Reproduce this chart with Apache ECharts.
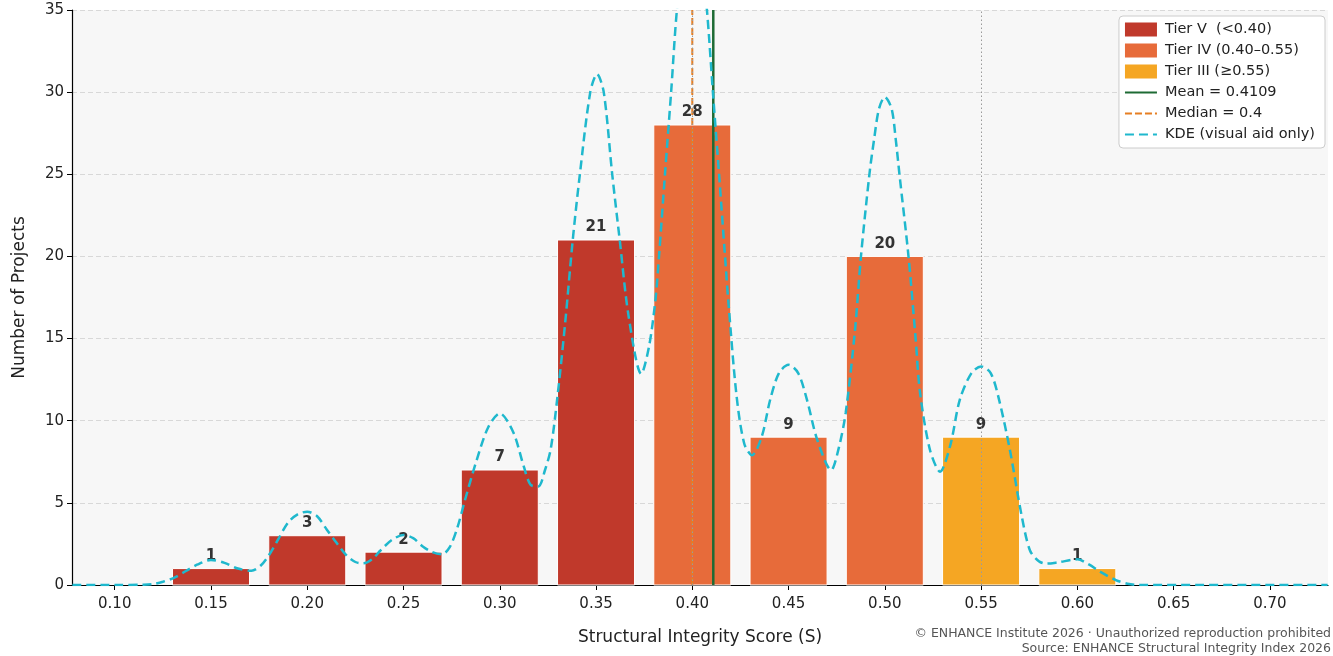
<!DOCTYPE html>
<html>
<head>
<meta charset="utf-8">
<script src="https://cdn.jsdelivr.net/npm/echarts@6/dist/echarts.min.js"></script>
<style>
  html,body{margin:0;padding:0;background:#fff;}
  #chart{width:1333px;height:656px;}
</style>
</head>
<body>
<div id="chart"></div>
<script>
// ---- data ----
const binCenters = [0.15, 0.20, 0.25, 0.30, 0.35, 0.40, 0.45, 0.50, 0.55, 0.60];
const binCounts  = [1, 3, 2, 7, 21, 28, 9, 20, 9, 1];
const tierNames  = ['Tier V  (<0.40)', 'Tier IV (0.40\u20130.55)', 'Tier III (\u22650.55)'];
const tierLimits = [0.40, 0.55];
const meanValue = 0.4109;
const medianValue = 0.4;
const xTickLabels = [0.10, 0.15, 0.20, 0.25, 0.30, 0.35, 0.40, 0.45, 0.50, 0.55, 0.60, 0.65, 0.70];
const yTickLabels = [0, 5, 10, 15, 20, 25, 30, 35];
// KDE curve (scaled to counts)
const kdeX = [0.078,0.100,0.115,0.120,0.125,0.131,0.137,0.143,0.150,0.157,0.164,0.171,0.176,0.180,0.185,0.190,0.195,0.200,0.205,0.210,0.215,0.220,0.225,0.229,0.234,0.238,0.244,0.250,0.255,0.260,0.265,0.270,0.274,0.278,0.282,0.288,0.294,0.300,0.307,0.3125,0.316,0.320,0.3235,0.3265,0.330,0.334,0.3379,0.3416,0.347,0.3505,0.354,0.3584,0.3623,0.367,0.3735,0.3775,0.3808,0.3827,0.3858,0.389,0.392,0.396,0.400,0.404,0.4076,0.4107,0.4139,0.417,0.4187,0.423,0.427,0.431,0.436,0.4405,0.445,0.450,0.455,0.4595,0.465,0.4721,0.476,0.4797,0.4845,0.4876,0.492,0.4944,0.497,0.500,0.5035,0.5057,0.5076,0.5123,0.516,0.5183,0.5235,0.5287,0.534,0.539,0.545,0.550,0.555,0.5593,0.565,0.5711,0.5754,0.580,0.584,0.590,0.600,0.606,0.612,0.620,0.626,0.632,0.730];
const kdeY = [0,0,0.02,0.06,0.2,0.45,0.85,1.25,1.52,1.35,1.0,0.87,1.2,1.8,2.8,3.8,4.3,4.46,4.2,3.4,2.6,1.85,1.4,1.32,1.6,2.1,2.75,3.04,2.85,2.35,2.0,1.87,2.3,3.5,5.2,7.6,9.6,10.45,9.3,7.2,6.1,6.0,7.0,8.3,11.5,16.0,21,25,30,31.1,30,25,21,16.3,12.85,14.5,17.3,20,25,30,35,39,40.6,39,35,30,25,20,17.3,11.5,8.6,7.9,9.0,11.3,12.9,13.4,12.9,11.3,8.8,7.0,8.3,10.5,15.5,20,25,27.1,29,29.7,29,27.1,25,20,15,11.7,8.2,6.9,8.5,11.3,12.9,13.3,12.9,11.3,8.2,4.2,2.1,1.45,1.3,1.38,1.56,1.25,0.8,0.3,0.08,0,0];

// ---- styling ----
const tierColors = ['#c0392b', '#e76b3a', '#f5a623'];
const BAR_HALF = 0.02;
const FONT = 'DejaVu Sans';

function tierIndex(x) {
  if (x < tierLimits[0] - 1e-9) return 0;
  if (x < tierLimits[1] - 1e-9) return 1;
  return 2;
}
const tierData = [[], [], []];
binCenters.forEach((x, i) => tierData[tierIndex(x)].push([x, binCounts[i]]));

function makeRender(color) {
  return function (params, api) {
    const x = api.value(0), y = api.value(1);
    const p0 = api.coord([x - BAR_HALF, 0]);
    const p1 = api.coord([x + BAR_HALF, y]);
    return {
      type: 'group',
      children: [
        { type: 'rect', shape: { x: p0[0], y: p1[1], width: p1[0] - p0[0], height: p0[1] - p1[1] },
          style: { fill: color, stroke: '#ffffff', lineWidth: 1 } },
        { type: 'text', x: (p0[0] + p1[0]) / 2, y: p1[1] - 5, z2: 50,
          style: { text: String(y), fill: '#333333', font: 'bold 15px ' + FONT,
                   align: 'center', verticalAlign: 'bottom', textAlign: 'center', textVerticalAlign: 'bottom' } }
      ]
    };
  };
}

const series = tierData.map((d, i) => ({
  name: tierNames[i], type: 'custom', data: d, z: 2,
  renderItem: makeRender(tierColors[i]), itemStyle: { color: tierColors[i] },
  encode: { x: 0, y: 1 }
}));

series.push({
  name: 'thresholds', type: 'line', data: [], z: 3, silent: true,
  markLine: { silent: true, symbol: 'none', label: { show: false },
    lineStyle: { color: '#9a9a9a', width: 1, type: [1.5, 2.5] },
    data: tierLimits.map(v => ({ xAxis: v })) }
});
series.push({
  name: 'Median = ' + medianValue, type: 'line', z: 4, symbol: 'none', showSymbol: false,
  data: [[medianValue, yTickLabels[0]], [medianValue, yTickLabels[yTickLabels.length - 1]]],
  lineStyle: { color: '#e67e22', width: 2, type: [7, 3] }, itemStyle: { color: '#e67e22' }
});
series.push({
  name: 'Mean = ' + meanValue, type: 'line', z: 5, symbol: 'none', showSymbol: false,
  data: [[meanValue, yTickLabels[0]], [meanValue, yTickLabels[yTickLabels.length - 1]]],
  lineStyle: { color: '#1e6b34', width: 2.5, type: 'solid' }, itemStyle: { color: '#1e6b34' }
});
series.push({
  name: 'KDE (visual aid only)', type: 'line', z: 6, symbol: 'none', showSymbol: false,
  smooth: 0.3, clip: true,
  data: kdeX.map((x, i) => [x, kdeY[i]]),
  lineStyle: { color: '#1fb8cd', width: 2.5, type: [9, 5] }, itemStyle: { color: '#1fb8cd' }
});

const hiddenSymbol = { color: 'rgba(0,0,0,0)', borderWidth: 0, opacity: 0 };

const chart = echarts.init(document.getElementById('chart'), null, { renderer: 'canvas' });
chart.setOption({
  animation: false,
  backgroundColor: '#ffffff',
  textStyle: { fontFamily: FONT },
  grid: { left: 72, right: 5, top: 10, bottom: 71, show: true, backgroundColor: '#f7f7f7', borderWidth: 0, containLabel: false },
  legend: {
    orient: 'vertical', right: 8, top: 16,
    backgroundColor: '#ffffff', borderColor: '#cccccc', borderWidth: 1, borderRadius: 4,
    padding: [6, 10, 6, 5], itemGap: 6, itemWidth: 32, itemHeight: 14,
    textStyle: { fontSize: 14.5, color: '#222', fontFamily: FONT, padding: [0, 0, 0, 3] },
    data: [
      { name: tierNames[0], icon: 'rect' },
      { name: tierNames[1], icon: 'rect' },
      { name: tierNames[2], icon: 'rect' },
      { name: 'Mean = ' + meanValue, itemStyle: hiddenSymbol },
      { name: 'Median = ' + medianValue, itemStyle: hiddenSymbol },
      { name: 'KDE (visual aid only)', itemStyle: hiddenSymbol }
    ]
  },
  xAxis: {
    type: 'value', min: 0.0778, max: 0.7302,
    name: 'Structural Integrity Score (S)', nameLocation: 'middle', nameGap: 44,
    nameTextStyle: { fontSize: 17, color: '#222', fontFamily: FONT },
    axisLine: { show: true, onZero: false, lineStyle: { color: '#000', width: 1.2 } },
    axisTick: { show: true, length: 5, lineStyle: { color: '#000', width: 1 }, customValues: xTickLabels },
    axisLabel: { fontSize: 15, color: '#222', margin: 12, customValues: xTickLabels, formatter: v => v.toFixed(2) },
    splitLine: { show: false }
  },
  yAxis: {
    type: 'value', min: 0, max: 35, interval: 5,
    name: 'Number of Projects', nameLocation: 'middle', nameGap: 44,
    nameTextStyle: { fontSize: 17, color: '#222', fontFamily: FONT },
    axisLine: { show: true, lineStyle: { color: '#000', width: 1.2 } },
    axisTick: { show: true, length: 5, lineStyle: { color: '#000', width: 1 } },
    axisLabel: { fontSize: 15, color: '#222', margin: 8 },
    splitLine: { show: true, lineStyle: { color: '#d8d8d8', width: 1, type: [5, 3] } }
  },
  graphic: [
    { type: 'text', right: 2, top: 627, z: 100,
      style: { text: '\u00a9 ENHANCE Institute 2026 \u00b7 Unauthorized reproduction prohibited', fill: '#555', font: '12.5px ' + FONT, textAlign: 'right' } },
    { type: 'text', right: 2, top: 642, z: 100,
      style: { text: 'Source: ENHANCE Structural Integrity Index 2026', fill: '#555', font: '12.5px ' + FONT, textAlign: 'right' } }
  ],
  series: series
});
</script>
</body>
</html>
